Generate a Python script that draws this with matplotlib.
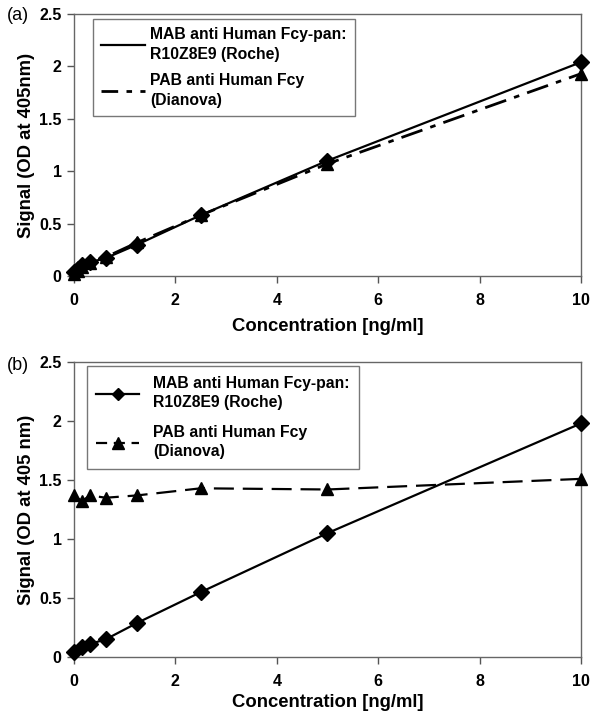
import matplotlib
matplotlib.use("Agg")
import matplotlib.pyplot as plt
from matplotlib.lines import Line2D

plt.rcParams['font.family'] = ['Liberation Sans', 'DejaVu Sans']

conc_a = [0, 0.078, 0.156, 0.3125, 0.625, 1.25, 2.5, 5, 10]
mab_a = [0.04, 0.07, 0.10, 0.13, 0.17, 0.30, 0.58, 1.10, 2.04]
pab_a = [0.02, 0.05, 0.09, 0.12, 0.18, 0.32, 0.58, 1.07, 1.93]

conc_b = [0, 0.156, 0.3125, 0.625, 1.25, 2.5, 5, 10]
mab_b = [0.045, 0.085, 0.11, 0.15, 0.29, 0.55, 1.05, 1.98]
pab_b = [1.37, 1.32, 1.37, 1.35, 1.37, 1.43, 1.42, 1.51]

xticks = [0, 2, 4, 6, 8, 10]
yticks = [0, 0.5, 1, 1.5, 2, 2.5]
yticklabels = ["0", "0.5", "1", "1.5", "2", "2.5"]

lab_mab = "MAB anti Human Fcy-pan:\nR10Z8E9 (Roche)"
lab_pab = "PAB anti Human Fcy\n(Dianova)"

fig = plt.figure(figsize=(5.92, 7.12), dpi=100)
ax1 = fig.add_axes([0.125, 0.6124, 0.8564, 0.368])
ax2 = fig.add_axes([0.125, 0.0772, 0.8564, 0.4143])

def style(ax, ylabel, xlabelpad):
    ax.set_xlim(0, 10)
    ax.set_ylim(0, 2.5)
    ax.set_xticks(xticks)
    ax.set_xticklabels([str(t) for t in xticks], fontsize=11.5, fontweight='bold')
    ax.set_yticks(yticks)
    ax.set_yticklabels(yticklabels, fontsize=11.5, fontweight='bold')
    ax.tick_params(direction='out', length=5, width=1, color='#555555')
    ax.tick_params(axis='x', pad=7.5)
    ax.tick_params(axis='y', pad=4)
    for s in ax.spines.values():
        s.set_color('#666666')
        s.set_linewidth(1)
    ax.set_xlabel("Concentration [ng/ml]", fontsize=13.3, fontweight='bold', labelpad=xlabelpad)
    ax.set_ylabel(ylabel, fontsize=13.3, fontweight='bold', labelpad=3)

# Panel (a)
ax1.plot(conc_a, mab_a, color='black', lw=1.6, marker='D', ms=8, clip_on=False, zorder=3)
ax1.plot(conc_a, pab_a, color='black', lw=2.0, ls=(0, (8, 3, 2, 3)), marker='^', ms=8, clip_on=False, zorder=3)
style(ax1, "Signal (OD at 405nm)", 7)
h1 = [Line2D([], [], color='black', lw=1.6),
      Line2D([], [], color='black', lw=2.0, ls=(0, (6, 3, 2, 3, 2, 3)))]
leg1 = ax1.legend(h1, [lab_mab, lab_pab], loc='upper left', bbox_to_anchor=(0.0375, 0.98),
                  prop={'size': 11.3, 'weight': 'bold'}, frameon=True, fancybox=False,
                  edgecolor='#555555', handlelength=2.8, labelspacing=0.65, borderpad=0.5,
                  handletextpad=0.35, borderaxespad=0)
leg1.get_frame().set_linewidth(1)
for t in leg1.get_texts():
    t.set_linespacing(1.45)
fig.text(0.012, 0.978, "(a)", fontsize=13, va='center', ha='left')

# Panel (b)
ax2.plot(conc_b, mab_b, color='black', lw=1.6, marker='D', ms=8, clip_on=False, zorder=3)
ax2.plot(conc_b, pab_b, color='black', lw=1.6, ls=(0, (9, 4)), marker='^', ms=8, clip_on=False, zorder=3)
style(ax2, "Signal (OD at 405 nm)", 3)
h2 = [Line2D([], [], color='black', lw=1.6, marker='D', ms=6),
      Line2D([], [], color='black', lw=1.6, ls=(0, (5, 3)), marker='^', ms=8)]
leg2 = ax2.legend(h2, [lab_mab, lab_pab], loc='upper left', bbox_to_anchor=(0.0256, 0.985),
                  prop={'size': 11.3, 'weight': 'bold'}, frameon=True, fancybox=False,
                  edgecolor='#555555', handlelength=2.7, labelspacing=0.95, borderpad=0.6,
                  handletextpad=0.9, borderaxespad=0)
leg2.get_frame().set_linewidth(1)
for t in leg2.get_texts():
    t.set_linespacing(1.35)
fig.text(0.012, 0.486, "(b)", fontsize=13, va='center', ha='left')

fig.savefig("out.png", dpi=100)
